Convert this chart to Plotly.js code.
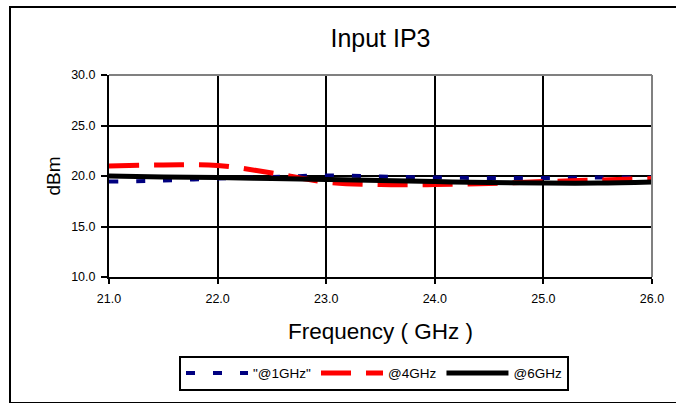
<!DOCTYPE html>
<html><head><meta charset="utf-8">
<script src="https://cdn.plot.ly/plotly-3.0.1.min.js"></script>
<style>
html,body{margin:0;padding:0;background:#fff;}
#wrap{position:relative;width:676px;height:403px;overflow:hidden;}
#chart{position:absolute;left:0;top:0;width:676px;height:403px;}
#frame{position:absolute;left:9px;top:6px;width:700px;height:394px;border:2px solid #000;pointer-events:none;}
</style></head>
<body>
<div id="wrap"><div id="chart"></div><div id="frame"></div></div>
<script>
const freq = [21.0, 21.5, 22.0, 22.5, 23.0, 23.5, 24.0, 24.5, 25.0, 25.5, 26.0];
const ip3_1GHz = [19.45, 19.55, 19.75, 19.9, 20.05, 19.95, 19.85, 19.8, 19.8, 19.85, 19.85];
const ip3_4GHz = [21.0, 21.1, 21.05, 20.3, 19.4, 19.15, 19.15, 19.25, 19.45, 19.6, 19.75];
const ip3_6GHz = [20.0, 19.9, 19.85, 19.75, 19.65, 19.55, 19.45, 19.35, 19.3, 19.3, 19.4];
const seriesNames = ['"@1GHz"', '@4GHz', '@6GHz'];
const xTicks = [21, 22, 23, 24, 25, 26];
const yTicks = [10, 15, 20, 25, 30];

const FONT = 'Liberation Sans, Arial, sans-serif';
const traces = [
  {x: freq, y: ip3_1GHz, name: seriesNames[0], mode: 'lines',
   line: {color: '#000080', width: 4, dash: '9px,18px', shape: 'spline'}},
  {x: freq, y: ip3_4GHz, name: seriesNames[1], mode: 'lines',
   line: {color: '#ff0000', width: 5, dash: '30px,15px', shape: 'spline'}},
  {x: freq, y: ip3_6GHz, name: seriesNames[2], mode: 'lines',
   line: {color: '#000000', width: 5, shape: 'spline'}}
];
const layout = {
  width: 676, height: 403,
  margin: {l: 109, r: 24, t: 75, b: 123},
  paper_bgcolor: '#fff', plot_bgcolor: '#fff',
  font: {family: FONT, color: '#000'},
  showlegend: true,
  title: {text: 'Input IP3', font: {family: FONT, size: 25, color: '#000'},
          x: 0.5, xref: 'paper', xanchor: 'center', y: 1 - 38/403, yref: 'container', yanchor: 'middle'},
  xaxis: {range: [21, 26], tickvals: xTicks, ticktext: xTicks.map(v => v.toFixed(1)),
          showgrid: true, gridcolor: '#000', gridwidth: 2, zeroline: false,
          showline: true, linecolor: '#000', linewidth: 2,
          ticks: 'outside', ticklen: 5, tickwidth: 2, tickcolor: '#000',
          ticklabelstandoff: 4,
          tickfont: {family: FONT, size: 12.5, color: '#000'},
          title: {text: 'Frequency ( GHz )', font: {family: FONT, size: 22.5, color: '#000'}, standoff: 18}},
  yaxis: {range: [10, 30], tickvals: yTicks, ticktext: yTicks.map(v => v.toFixed(1)),
          showgrid: true, gridcolor: '#000', gridwidth: 2, zeroline: false,
          showline: true, linecolor: '#000', linewidth: 2,
          ticks: 'outside', ticklen: 6, tickwidth: 2, tickcolor: '#000',
          ticklabelstandoff: 3,
          tickfont: {family: FONT, size: 12.5, color: '#000'},
          title: {text: 'dBm', font: {family: FONT, size: 19, color: '#000'}, standoff: 6}},
  legend: {orientation: 'h', x: (179-109)/543, xanchor: 'left', y: (280-360)/205, yanchor: 'top',
           bordercolor: '#000', borderwidth: 2, bgcolor: '#fff',
           font: {family: FONT, size: 13.5, color: '#000'}, itemwidth: 62,
           tracegroupgap: 0},
  shapes: [
    {type: 'line', xref: 'paper', yref: 'paper', x0: 0, x1: 1, y0: 1, y1: 1, line: {color: '#808080', width: 2}, layer: 'above'},
    {type: 'line', xref: 'paper', yref: 'paper', x0: 1, x1: 1, y0: 0, y1: 1, line: {color: '#808080', width: 2}, layer: 'above'}
  ]
};
Plotly.newPlot('chart', traces, layout, {displayModeBar: false, staticPlot: true});
</script>
</body></html>
